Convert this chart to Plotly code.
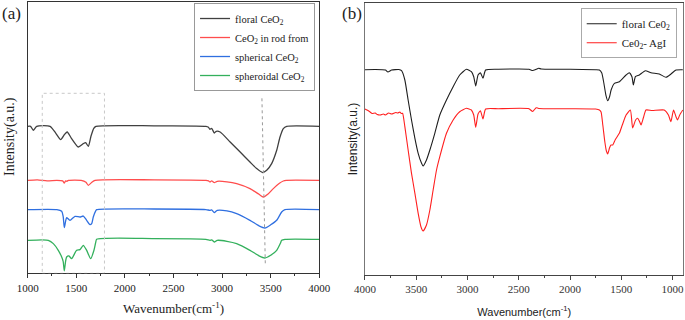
import plotly.graph_objects as go

# ---------------- Panel (a) data: wavenumber (cm-1) vs intensity (a.u.) ----------------
a_floral_wn = [1000, 1030, 1058, 1093, 1230, 1290, 1340, 1380, 1407, 1450, 1521, 1572, 1596, 1624, 1651, 1680,
               1703, 2300, 2834, 2860, 2875, 2893, 2920, 2940, 2980, 3083, 3186, 3287, 3356, 3418, 3459, 3510,
               3562, 3596, 3630, 3665, 4000]
a_floral_int = [147, 147, 143, 147, 147, 140, 133.7, 139, 141.3, 135, 126.3, 129.7, 130.7, 127, 137, 145,
                147, 147.5, 147, 146, 144, 145, 140.3, 142, 141.3, 131.3, 121.3, 111.3, 104.7, 100.7, 103, 109.7,
                123, 136.3, 144.7, 147, 147]

a_rod_wn = [1000, 1100, 1200, 1300, 1360, 1377, 1390, 1401, 1420, 1550, 1600, 1624, 1660, 1693, 2300, 2834,
            2860, 2875, 2893, 2920, 2950, 3050, 3150, 3287, 3380, 3424, 3470, 3527, 3590, 3630, 3660, 4000]
a_rod_int = [93, 93.5, 92.5, 93, 92.5, 90.3, 92.5, 92, 93, 93, 91, 88, 91, 93, 93.5, 93,
             92.5, 91.3, 92.5, 90.7, 92, 91.5, 89.7, 84.7, 79, 76.3, 79, 84.7, 90, 92.3, 93, 93]

a_sph_wn = [1000, 1300, 1350, 1365, 1377, 1390, 1401, 1435, 1487, 1538, 1572, 1607, 1641, 1660, 1675, 1700,
            1710, 2300, 2834, 2875, 2893, 2920, 2950, 3050, 3150, 3287, 3380, 3441, 3500, 3562, 3613, 3647, 4000]
a_sph_int = [63.7, 63.7, 62, 57, 45.7, 52, 55.7, 53, 57, 56.3, 57.3, 53, 48.7, 50, 56.3, 62.5,
             63.7, 64.3, 63.7, 63, 63.5, 60.7, 63, 62.5, 59.7, 53, 47.5, 45.3, 48.5, 53, 61.3, 63.7, 63.7]

a_sphd_wn = [1000, 1150, 1212, 1264, 1315, 1350, 1365, 1377, 1390, 1401, 1425, 1452, 1504, 1538, 1572, 1607,
             1648, 1682, 1700, 1710, 2300, 2834, 2875, 2893, 2920, 2950, 3050, 3150, 3287, 3380, 3441, 3500,
             3562, 3600, 3613, 3647, 4000]
a_sphd_int = [33, 33.5, 33, 29.7, 23, 16.3, 12, 2.5, 12, 16.3, 17.3, 14.7, 23, 23.7, 28, 23,
              14.7, 23, 31, 34, 34.7, 34, 33, 33.5, 31.3, 33, 32, 29.7, 23, 17.5, 15.3, 18,
              23, 30, 33, 34, 34]

# ---------------- Panel (b) data ----------------
b_floral_wn = [4000, 3900, 3800, 3776, 3740, 3670, 3643, 3611, 3579, 3546, 3513, 3481, 3448, 3433, 3400, 3367,
               3319, 3270, 3205, 3140, 3076, 3010, 2962, 2939, 2920, 2897, 2874, 2849, 2823, 2700, 2400, 2365,
               2330, 2306, 2280, 2000, 1750, 1713, 1690, 1670, 1650, 1632, 1615, 1599, 1567, 1518, 1453, 1421,
               1395, 1382, 1362, 1324, 1265, 1210, 1129, 1064, 1015, 966, 900]
b_floral_int = [205.3, 205.5, 205, 203, 205, 205.5, 204.3, 195, 175, 155, 136.7, 121.7, 111.7, 109, 115, 125,
                141.7, 160, 175, 188.3, 200, 205.7, 203.3, 198.3, 189, 200, 202.3, 196.7, 205, 205.7, 205.7, 204.5,
                205.7, 206.7, 206, 205.7, 205.3, 205, 202, 192, 180, 174.3, 178, 185, 191.7, 193.3, 200, 202.3,
                198, 190, 198.3, 200, 204.3, 202.3, 201, 197.7, 201, 205, 205.3]

b_agi_wn = [4000, 3980, 3950, 3930, 3900, 3880, 3850, 3820, 3800, 3770, 3740, 3700, 3680, 3660, 3645, 3633,
            3611, 3579, 3546, 3513, 3481, 3454, 3433, 3400, 3367, 3335, 3302, 3270, 3205, 3140, 3076, 3010,
            2962, 2939, 2920, 2897, 2874, 2849, 2823, 2700, 2400, 2365, 2330, 2306, 2000, 1750, 1713, 1697,
            1680, 1660, 1645, 1632, 1615, 1600, 1583, 1560, 1519, 1490, 1453, 1411, 1389, 1360, 1340, 1320,
            1307, 1285, 1259, 1200, 1081, 1040, 1016, 990, 965, 951, 930, 900]
b_agi_int = [166, 165, 163, 161.5, 162, 160.5, 160, 161, 160, 162, 161, 162.5, 162, 163, 161.5, 161.7,
             148.3, 125, 101.7, 81.7, 61.7, 48.3, 44, 50, 65, 85, 105, 118.3, 141.7, 155, 163.3, 166.7,
             165, 160, 147.7, 161, 164.3, 156, 166, 166.3, 166.3, 163.5, 167.3, 166.5, 166.3, 166, 165, 163,
             150, 133, 124, 121, 127, 130, 130, 135, 141.7, 150, 160, 165, 147, 155, 156.7, 153,
             150, 157, 165, 164.5, 165, 160, 153.3, 165, 158, 155, 160, 165]

a_names = ["floral CeO<sub>2</sub>", "CeO<sub>2</sub> in rod from", "spherical CeO<sub>2</sub>", "spheroidal CeO<sub>2</sub>"]
a_colors = ["#404040", "#ff4d4d", "#2f6fe0", "#33b05c"]
b_names = ["floral Ce0<sub>2</sub>", "Ce0<sub>2</sub>- AgI"]
b_colors = ["#1e1e1e", "#ff1f1f"]

SERIF = "Liberation Serif"
SANS = "Liberation Sans"

fig = go.Figure()

a_series = [(a_floral_wn, a_floral_int), (a_rod_wn, a_rod_int), (a_sph_wn, a_sph_int), (a_sphd_wn, a_sphd_int)]
for (wn, it), name, col in zip(a_series, a_names, a_colors):
    fig.add_trace(go.Scatter(x=wn, y=it, mode="lines", name=name,
                             line=dict(color=col, width=1.3, shape="spline", smoothing=0.6),
                             xaxis="x", yaxis="y", legend="legend"))

b_series = [(b_floral_wn, b_floral_int), (b_agi_wn, b_agi_int)]
for (wn, it), name, col in zip(b_series, b_names, b_colors):
    fig.add_trace(go.Scatter(x=wn, y=it, mode="lines", name=name,
                             line=dict(color=col, width=1.1, shape="spline", smoothing=0.5),
                             xaxis="x2", yaxis="y2", legend="legend2"))

# guide shapes in panel (a)
fig.add_shape(type="rect", xref="x", yref="y", x0=1150, x1=1790, y0=0, y1=180,
              line=dict(color="#c8c8c8", width=1, dash="dot"))
fig.add_shape(type="line", xref="x", yref="y", x0=3410, y0=175, x1=3445, y1=8,
              line=dict(color="#999999", width=1, dash="dot"))

fig.update_layout(
    width=685, height=320,
    margin=dict(l=0, r=0, t=0, b=0),
    paper_bgcolor="white", plot_bgcolor="white",
    showlegend=True,
    xaxis=dict(domain=[0.0404, 0.4661], range=[1000, 4000], anchor="y",
               showline=True, linecolor="#333", linewidth=1.3, mirror=True,
               ticks="outside", ticklen=4, tickcolor="#333", dtick=500, tick0=1000,
               minor=dict(ticks="outside", ticklen=2, dtick=250, tickcolor="#333"),
               showgrid=False, zeroline=False,
               tickfont=dict(family=SERIF, size=11, color="#222"),
               title=dict(text="Wavenumber(cm<sup>-1</sup>)", font=dict(family=SERIF, size=13, color="#222"),
                          standoff=11),
               automargin=False),
    yaxis=dict(domain=[0.1459, 0.99375], range=[0, 271.3], anchor="x",
               showline=True, linecolor="#333", linewidth=1.3, mirror=True,
               showticklabels=False, ticks="", showgrid=False, zeroline=False,
               automargin=False),
    xaxis2=dict(domain=[0.5328, 0.9978], range=[4000, 893], anchor="y2",
                showline=True, linecolor="#444", linewidth=1.2, mirror=True,
                ticks="outside", ticklen=4, tickcolor="#444", dtick=500, tick0=1000,
                minor=dict(ticks="outside", ticklen=2, dtick=250, tickcolor="#444"),
                showgrid=False, zeroline=False,
                tickfont=dict(family=SERIF, size=11, color="#333"),
                title=dict(text="Wavenumber(cm<sup>-1</sup>)", font=dict(family=SANS, size=11, color="#222"),
                           standoff=13),
                automargin=False),
    yaxis2=dict(domain=[0.1406, 0.9906], range=[0, 272], anchor="x2",
                showline=True, linecolor="#777", linewidth=1.2, mirror=True,
                showticklabels=False, ticks="", showgrid=False, zeroline=False,
                title=dict(text="Intensity(a.u.)", font=dict(family=SANS, size=12, color="#222"), standoff=3),
                automargin=False),
    legend=dict(x=0.4599, y=0.9906, xanchor="right", yanchor="top",
                bordercolor="#999", borderwidth=1, bgcolor="white",
                font=dict(family=SERIF, size=10.5, color="#222")),
    legend2=dict(x=0.9879, y=0.974, xanchor="right", yanchor="top",
                 bordercolor="#aaa", borderwidth=1, bgcolor="white",
                 font=dict(family=SERIF, size=11, color="#222")),
    annotations=[
        dict(text="(a)", x=0.0, y=0.957, xref="paper", yref="paper", xanchor="left", yanchor="middle",
             showarrow=False, font=dict(family=SERIF, size=17, color="#222")),
        dict(text="(b)", x=0.4964, y=0.957, xref="paper", yref="paper", xanchor="left", yanchor="middle",
             showarrow=False, font=dict(family=SERIF, size=17, color="#222")),
        dict(text="Intensity(a.u.)", x=10 / 685, y=1 - 137 / 320, xref="paper", yref="paper",
             xanchor="center", yanchor="middle", textangle=-90, showarrow=False,
             font=dict(family=SERIF, size=14, color="#222")),
    ],
)

# remove the browser's default 8px page margin so the 685x320 figure fills the window exactly
fig.write_html("out.html", config={"displayModeBar": False},
               post_script="document.body.style.margin='0';document.body.style.padding='0';")
